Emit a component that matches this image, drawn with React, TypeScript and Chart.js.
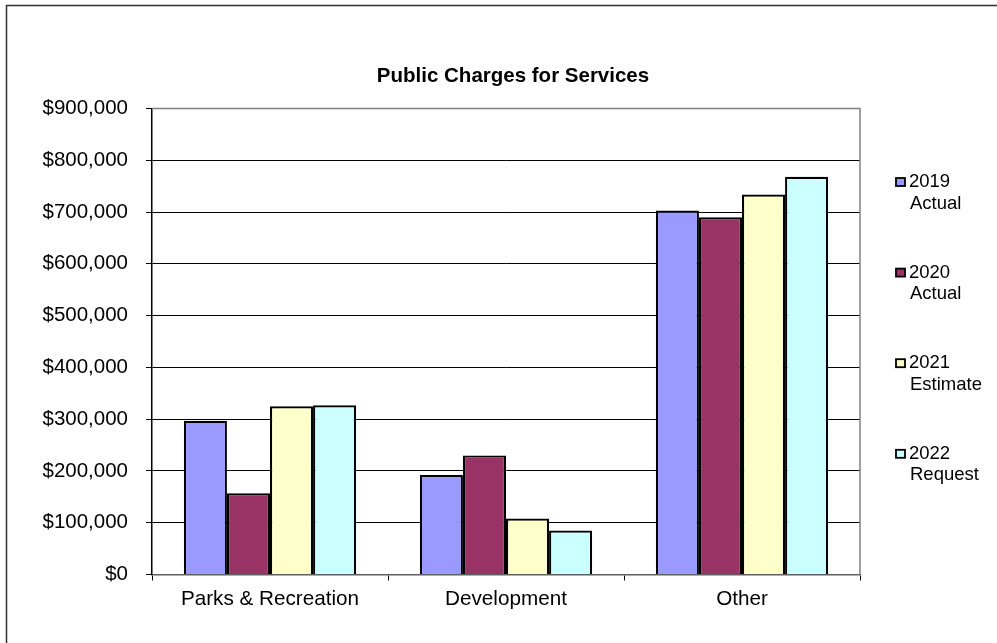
import React, { useEffect, useRef } from "react";
import { Chart, registerables } from "chart.js";

Chart.register(...registerables);

const chartTitle = "Public Charges for Services";
const categories = ["Parks & Recreation", "Development", "Other"];
const seriesNames = [
  ["2019", "Actual"],
  ["2020", "Actual"],
  ["2021", "Estimate"],
  ["2022", "Request"],
];
const values2019 = [297000, 192000, 703000];
const values2020 = [157000, 230000, 690000];
const values2021 = [325000, 108000, 734000];
const values2022 = [327000, 85000, 768000];
const seriesColors = ["#9999FF", "#993366", "#FFFFCC", "#CCFFFF"];
const yMin = 0;
const yMax = 900000;
const yStep = 100000;

const FONT = "'Liberation Sans', Arial, Helvetica, sans-serif";

const decorPlugin = {
  id: "decor",
  afterDraw(chart: any) {
    const { ctx, chartArea } = chart;
    ctx.save();
    // outer frame
    ctx.strokeStyle = "#303030";
    ctx.lineWidth = 1.5;
    ctx.beginPath();
    ctx.moveTo(6.5, 1000);
    ctx.lineTo(6.5, 5.5);
    ctx.lineTo(1100, 5.5);
    ctx.stroke();

    // plot area border (top & right)
    ctx.strokeStyle = "#808080";
    ctx.lineWidth = 1.5;
    ctx.beginPath();
    ctx.moveTo(chartArea.left, chartArea.top);
    ctx.lineTo(chartArea.right, chartArea.top);
    ctx.lineTo(chartArea.right, chartArea.bottom);
    ctx.stroke();

    // title
    ctx.fillStyle = "#000";
    ctx.font = `bold 20.5px ${FONT}`;
    ctx.textAlign = "center";
    ctx.textBaseline = "alphabetic";
    ctx.fillText(chartTitle, 513, 82);

    // legend
    ctx.font = `18.5px ${FONT}`;
    ctx.textAlign = "left";
    chart.data.datasets.forEach((ds: any, i: number) => {
      const base = 187 + i * 90.6;
      ctx.fillStyle = ds.backgroundColor;
      ctx.fillRect(896, base - 9, 9, 8);
      ctx.strokeStyle = "#000";
      ctx.lineWidth = 1.8;
      ctx.strokeRect(896, base - 9, 9, 8);
      ctx.fillStyle = "#000";
      const lines = ds.label.split("\n");
      lines.forEach((ln: string, j: number) => {
        ctx.fillText(ln, j === 0 ? 909 : 910, base + j * 21.5);
      });
    });
    ctx.restore();
  },
};

export default function App() {
  const canvasRef = useRef<HTMLCanvasElement | null>(null);

  useEffect(() => {
    if (!canvasRef.current) return;
    const seriesValues = [values2019, values2020, values2021, values2022];
    const chart = new Chart(canvasRef.current, {
      type: "bar",
      data: {
        labels: categories,
        datasets: seriesValues.map((vals, i) => ({
          label: seriesNames[i].join("\n"),
          data: vals,
          backgroundColor: seriesColors[i],
          borderColor: "#000",
          borderWidth: 2.2,
          categoryPercentage: 0.73,
          barPercentage: 1,
        })),
      },
      options: {
        animation: false,
        responsive: true,
        maintainAspectRatio: false,
        layout: { padding: { top: 108.5, right: 137, left: 0, bottom: 0 } },
        plugins: {
          legend: { display: false },
          title: { display: false },
          tooltip: { enabled: false },
        },
        scales: {
          x: {
            grid: {
              drawOnChartArea: false,
              drawTicks: true,
              tickLength: 6,
              color: "#000",
              offset: true,
            },
            border: { display: true, color: "#606060", width: 1.5 },
            ticks: {
              color: "#000",
              font: { family: FONT, size: 20.7 },
              padding: 6,
              maxRotation: 0,
              autoSkip: false,
            },
            afterFit: (scale: any) => {
              scale.height = 68.5;
            },
          },
          y: {
            min: yMin,
            max: yMax,
            grid: {
              color: "#000",
              lineWidth: 1,
              drawTicks: true,
              tickLength: 6,
            },
            border: { display: true, color: "#000", width: 1.5 },
            ticks: {
              stepSize: yStep,
              color: "#000",
              font: { family: FONT, size: 20.5 },
              padding: 18,
              callback: (v: any) => "$" + Number(v).toLocaleString("en-US"),
            },
            afterFit: (scale: any) => {
              scale.width = 152;
            },
          },
        },
      },
      plugins: [decorPlugin],
    });
    return () => chart.destroy();
  }, []);

  return (
    <div
      style={{
        position: "absolute",
        left: 0,
        top: 0,
        width: 997,
        height: 643,
        background: "#fff",
      }}
    >
      <canvas ref={canvasRef} />
    </div>
  );
}
